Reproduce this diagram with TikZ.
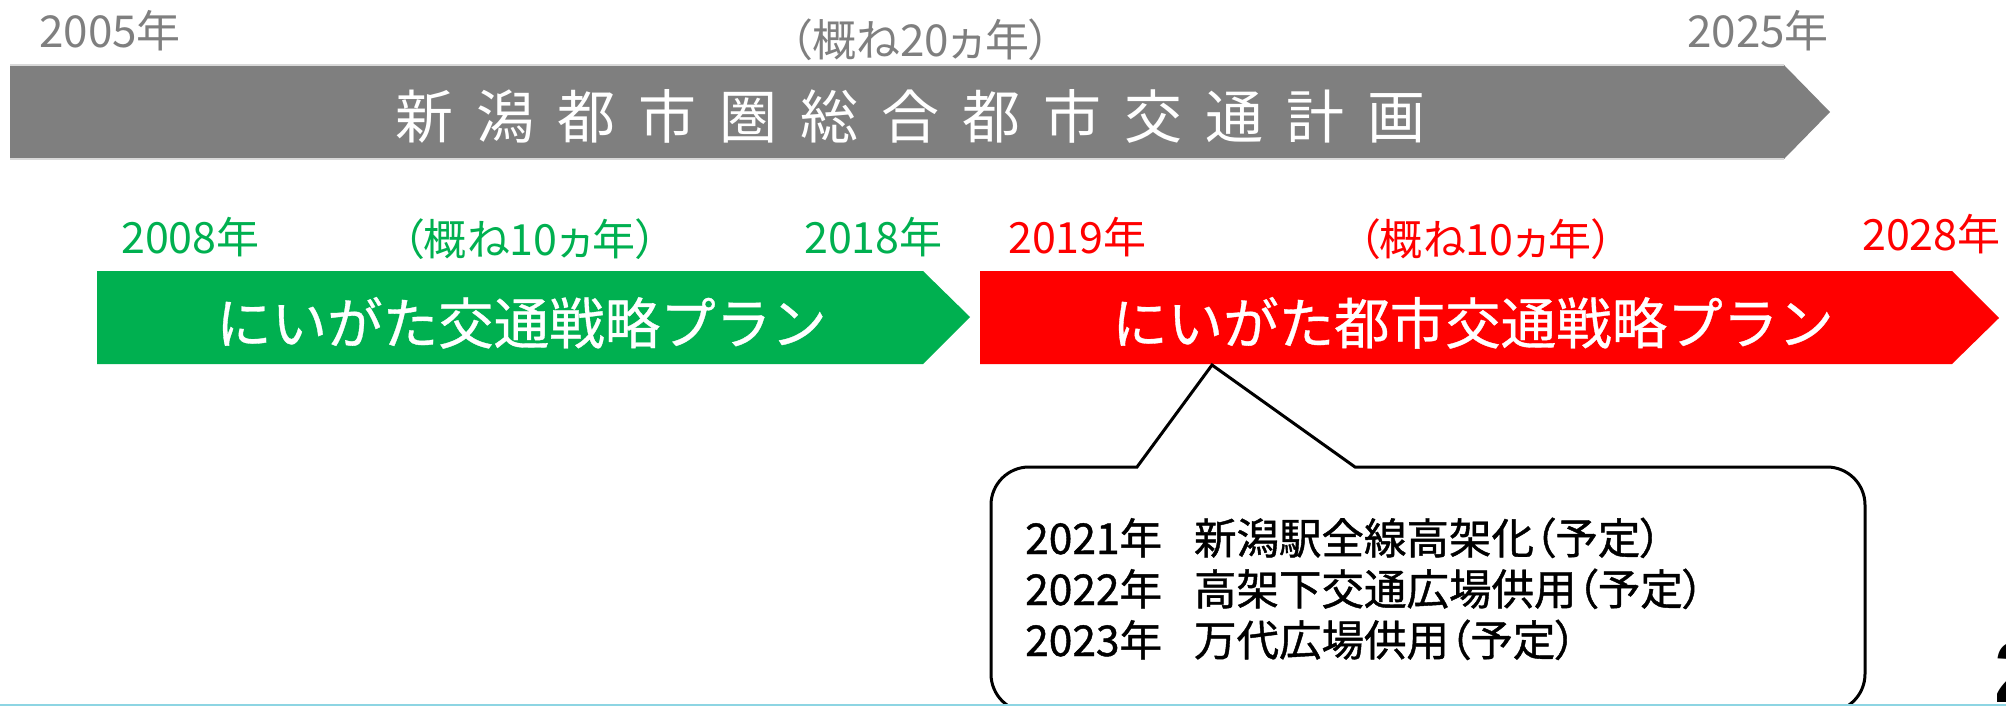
\documentclass[tikz,border=0pt]{standalone}
\usepackage{fontspec}
\setmainfont{Noto Sans CJK JP}
\newfontfamily\jp{Noto Sans CJK JP}
\newfontfamily\jpb[FakeBold=0.6]{Noto Sans CJK JP}
\newfontfamily\jpp[CharacterWidth=AlternateProportional]{Noto Sans CJK JP}
\newfontfamily\jppb[CharacterWidth=AlternateProportional,FakeBold=1]{Noto Sans CJK JP}
\newfontfamily\pnfont{Liberation Sans}
\definecolor{plangray}{HTML}{7F7F7F}
\definecolor{plangreen}{HTML}{00B050}
\definecolor{planred}{HTML}{FF0000}
\definecolor{edgecyan}{HTML}{8DD5E3}
\newcommand{\gsp}{\hspace{23pt}}
\tikzset{
  yearlbl/.style={inner sep=0pt, anchor=base west, font=\jpp\fontsize{44}{44}\selectfont},
  bartitle/.style={inner sep=0pt, anchor=base west, text=white, font=\jpb\fontsize{55.5}{55.5}\selectfont},
  calloutline/.style={inner sep=0pt, anchor=base west, text=black, font=\jppb\fontsize{42.5}{42.5}\selectfont},
  callout/.style={draw=black, fill=white, line width=3pt, line join=miter}
}
\begin{document}
\begin{tikzpicture}[x=1pt,y=-1pt]
\useasboundingbox (0,0) rectangle (2006,706);

% gray long-term plan
\fill[plangray] (10,65) -- (1784,65) -- (1830,112) -- (1784,159) -- (10,159) -- cycle;
\draw[white!85!black, line width=1.2pt] (10,65) -- (1784,65);
\draw[white!85!black, line width=1.2pt] (10,159) -- (1784,159);
\node[inner sep=0pt, anchor=base west, text=white, font=\jp\fontsize{58}{58}\selectfont] (gtitle) at (395,139)
  {新\gsp 潟\gsp 都\gsp 市\gsp 圏\gsp 総\gsp 合\gsp 都\gsp 市\gsp 交\gsp 通\gsp 計\gsp 画};
\node[yearlbl, text=plangray] (y2005) at (39,48) {2005年};
\node[yearlbl, text=plangray] (gspan) at (790,57) {（概ね20ヵ年）};
\node[yearlbl, text=plangray] (y2025) at (1687,48) {2025年};

% green plan
\fill[plangreen] (97,271) -- (923,271) -- (970,317) -- (923,364) -- (97,364) -- cycle;
\node[bartitle] (greentitle) at (216,344) {にいがた交通戦略プラン};
\node[yearlbl, text=plangreen, font=\jpp\fontsize{43}{43}\selectfont] (y2008) at (121,253) {2008年};
\node[yearlbl, text=plangreen, font=\jpp\fontsize{43}{43}\selectfont] (greenspan) at (402,255) {（概ね10ヵ年）};
\node[yearlbl, text=plangreen, font=\jpp\fontsize{43}{43}\selectfont] (y2018) at (804,253) {2018年};

% red plan
\fill[planred] (980,271) -- (1952,271) -- (1999,318) -- (1952,364) -- (980,364) -- cycle;
\node[bartitle] (redtitle) at (1112,344) {にいがた都市交通戦略プラン};
\node[yearlbl, text=planred, font=\jpp\fontsize{43}{43}\selectfont] (y2019) at (1008,253) {2019年};
\node[yearlbl, text=planred, font=\jpp\fontsize{43}{43}\selectfont] (redspan) at (1358,255) {（概ね10ヵ年）};
\node[yearlbl, text=planred, font=\jpp\fontsize{43}{43}\selectfont] (y2028) at (1862,250) {2028年};

% callout
\draw[callout] (1064,467) [rounded corners=38pt] -- (991,467) -- (991,712) -- (1865,712) -- (1865,467)
  [sharp corners] -- (1355,467) -- (1212,365) -- (1137,467) -- cycle;
\node[calloutline] (c1) at (1025,554) {2021年\hspace{32pt}新潟駅全線高架化（予定）};
\node[calloutline] (c2) at (1025,605) {2022年\hspace{32pt}高架下交通広場供用（予定）};
\node[calloutline] (c3) at (1025,656) {2023年\hspace{32pt}万代広場供用（予定）};

% page number (cut by the page edge) and bottom rule
\node[inner sep=0pt, anchor=base west, font=\pnfont\bfseries\fontsize{87}{87}\selectfont] (pagenum) at (1994,702) {2};
\draw[edgecyan, line width=2pt] (0,705) -- (2006,705);
\end{tikzpicture}
\end{document}
